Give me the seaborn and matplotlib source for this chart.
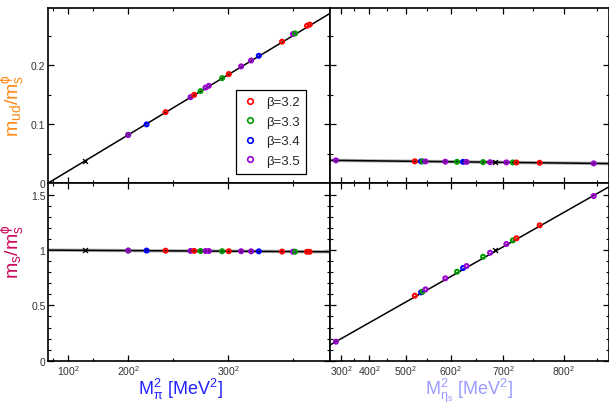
import numpy as np
import pandas as pd
import matplotlib
matplotlib.use("Agg")
import matplotlib.pyplot as plt
import seaborn as sns
from matplotlib.lines import Line2D
from matplotlib.ticker import FixedLocator, FixedFormatter

sns.set_style("ticks")
plt.rcParams["font.family"] = ["Liberation Sans", "DejaVu Sans"]
plt.rcParams["mathtext.fontset"] = "custom"
plt.rcParams["mathtext.rm"] = "Liberation Sans"
plt.rcParams["mathtext.it"] = "Liberation Sans:italic"
plt.rcParams["mathtext.bf"] = "Liberation Sans:bold"
plt.rcParams["mathtext.sf"] = "Liberation Sans"

# ---------------- data ----------------
betas = ["β=3.2", "β=3.3", "β=3.4", "β=3.5"]
beta_colors = ["#FF0000", "#009A00", "#0000FF", "#9A00D0"]

# ensembles vs M_pi^2 (MeV^2)
pi_beta = ["β=3.3", "β=3.5", "β=3.4", "β=3.2", "β=3.5", "β=3.2", "β=3.3",
           "β=3.5", "β=3.5", "β=3.3", "β=3.2", "β=3.5", "β=3.5", "β=3.4",
           "β=3.2", "β=3.5", "β=3.3", "β=3.2", "β=3.2"]
pi_M2 = [40000, 40000, 49200, 58700, 71200, 73000, 76200, 78700, 80350,
         87000, 90350, 96500, 101500, 105350, 117000, 122500, 123500,
         129500, 130850]
pi_ud = [0.0820, 0.0815, 0.0995, 0.1203, 0.1458, 0.1497, 0.1560, 0.1620,
         0.1650, 0.1780, 0.1850, 0.1980, 0.2080, 0.2160, 0.2400, 0.2530,
         0.2540, 0.2670, 0.2690]
pi_s = [0.996, 0.996, 0.996, 0.995, 0.993, 0.993, 0.992, 0.992, 0.992,
        0.990, 0.990, 0.990, 0.989, 0.989, 0.987, 0.986, 0.986, 0.985, 0.985]

# ensembles vs M_eta_s^2 (MeV^2)
eta_beta = ["β=3.5", "β=3.2", "β=3.4", "β=3.3", "β=3.5", "β=3.5", "β=3.3",
            "β=3.4", "β=3.5", "β=3.3", "β=3.5", "β=3.5", "β=3.3", "β=3.2",
            "β=3.2", "β=3.5"]
eta_M2 = [77150, 271860, 287200, 290900, 298300, 347200, 376100, 391000,
          399600, 440400, 457700, 498000, 513800, 522700, 580000, 713400]
eta_ud = [0.0384, 0.0368, 0.0367, 0.0367, 0.0366, 0.0362, 0.0360, 0.0359,
          0.0358, 0.0355, 0.0353, 0.0350, 0.0349, 0.0348, 0.0344, 0.0333]
eta_s = [0.172, 0.588, 0.618, 0.624, 0.645, 0.745, 0.805, 0.838, 0.856,
         0.940, 0.976, 1.055, 1.088, 1.107, 1.224, 1.489]

# physical points
phys_pi_M2 = [18225]
phys_eta_M2 = [469500]
phys_ud_pi = [0.0366]
phys_ud_eta = [0.0352]
phys_s = [1.0]

# fit lines (end points)
fit_pi_x = [0, 141000]
fit_pi_ud = [0.0, 0.288]
fit_pi_s = [1.0, 0.985]
fit_eta_x = [62500, 750000]
fit_eta_ud = [0.0385, 0.0330]
fit_eta_s = [0.142, 1.57]

# ticks
pi_major = [10000, 40000, 90000]
pi_major_lab = [r"$\mathrm{100^2}$", r"$\mathrm{200^2}$", r"$\mathrm{300^2}$"]
pi_minor = [2500, 22500, 62500, 122500]
eta_major = [90000, 160000, 250000, 360000, 490000, 640000]
eta_major_lab = [r"$\mathrm{300^2}$", r"$\mathrm{400^2}$", r"$\mathrm{500^2}$",
                 r"$\mathrm{600^2}$", r"$\mathrm{700^2}$", r"$\mathrm{800^2}$"]
eta_minor = [122500, 202500, 302500, 422500, 562500, 722500]
ud_major = [0.0, 0.1, 0.2]
ud_major_lab = ["0", "0.1", "0.2"]
ud_minor = [0.05, 0.15, 0.25]
s_major = [0.0, 0.5, 1.0, 1.5]
s_major_lab = ["0", "0.5", "1", "1.5"]
s_minor = [0.1, 0.2, 0.3, 0.4, 0.6, 0.7, 0.8, 0.9, 1.1, 1.2, 1.3, 1.4]

df_pi = pd.DataFrame({"M2": pi_M2, "ud": pi_ud, "s": pi_s, "beta": pi_beta})
df_eta = pd.DataFrame({"M2": eta_M2, "ud": eta_ud, "s": eta_s, "beta": eta_beta})
palette = dict(zip(betas, beta_colors))

# ---------------- figure ----------------
W, H = 609, 406
fig = plt.figure(figsize=(W / 100, H / 100), dpi=100)
L, Mx, R = 48.3 / W, 330 / W, 608.5 / W
T, My, B = 1 - 8.5 / H, 1 - 184 / H, 1 - 361.7 / H
ax_tl = fig.add_axes([L, My, Mx - L, T - My])
ax_tr = fig.add_axes([Mx, My, R - Mx, T - My])
ax_bl = fig.add_axes([L, B, Mx - L, My - B])
ax_br = fig.add_axes([Mx, B, R - Mx, My - B])


def hollow(ax):
    coll = ax.collections[-1]
    fc = coll.get_facecolors()
    coll.set_edgecolors(fc)
    coll.set_facecolors("none")
    coll.set_linewidths(1.5)


panels = [
    (ax_tl, df_pi, "ud", fit_pi_x, fit_pi_ud, phys_pi_M2, phys_ud_pi, False),
    (ax_bl, df_pi, "s", fit_pi_x, fit_pi_s, phys_pi_M2, phys_s, True),
    (ax_tr, df_eta, "ud", fit_eta_x, fit_eta_ud, phys_eta_M2, phys_ud_eta, True),
    (ax_br, df_eta, "s", fit_eta_x, fit_eta_s, phys_eta_M2, phys_s, False),
]
for ax, df, col, fx, fy, px, py, band in panels:
    if band:
        sns.lineplot(x=fx, y=fy, ax=ax, color="#b0b0b0", lw=2.4, legend=False)
    sns.lineplot(x=fx, y=fy, ax=ax, color="black", lw=1.1, legend=False)
    sns.scatterplot(data=df, x="M2", y=col, hue="beta", hue_order=betas,
                    palette=palette, s=8, ax=ax, legend=False, zorder=3)
    hollow(ax)
    sns.scatterplot(x=px, y=py, ax=ax, marker="x", color="black", s=12,
                    linewidth=1.0, zorder=4, legend=False)

for ax in (ax_tl, ax_bl):
    ax.set_xlim(0, 141000)
    ax.xaxis.set_major_locator(FixedLocator(pi_major))
    ax.xaxis.set_minor_locator(FixedLocator(pi_minor))
for ax in (ax_tr, ax_br):
    ax.set_xlim(62500, 750000)
    ax.xaxis.set_major_locator(FixedLocator(eta_major))
    ax.xaxis.set_minor_locator(FixedLocator(eta_minor))
for ax in (ax_tl, ax_tr):
    ax.set_ylim(0, 0.298)
    ax.yaxis.set_major_locator(FixedLocator(ud_major))
    ax.yaxis.set_minor_locator(FixedLocator(ud_minor))
for ax in (ax_bl, ax_br):
    ax.set_ylim(0, 1.607)
    ax.yaxis.set_major_locator(FixedLocator(s_major))
    ax.yaxis.set_minor_locator(FixedLocator(s_minor))

for ax in (ax_tl, ax_tr, ax_bl, ax_br):
    ax.tick_params(which="both", direction="in", top=True, right=True,
                   bottom=True, left=True, colors="black", labelsize=7.5,
                   pad=2)
    ax.tick_params(which="major", length=4.0, width=0.9)
    ax.tick_params(which="minor", length=2.3, width=0.8)
    for sp in ax.spines.values():
        sp.set_color("black")
        sp.set_linewidth(1.2)
    ax.set_xlabel("")
    ax.set_ylabel("")
    ax.set_facecolor("white")

# tick labels
ax_tl.xaxis.set_major_formatter(FixedFormatter([""] * len(pi_major)))
ax_tr.xaxis.set_major_formatter(FixedFormatter([""] * len(eta_major)))
ax_tr.yaxis.set_major_formatter(FixedFormatter([""] * len(ud_major)))
ax_br.yaxis.set_major_formatter(FixedFormatter([""] * len(s_major)))
ax_bl.xaxis.set_major_formatter(FixedFormatter(pi_major_lab))
ax_br.xaxis.set_major_formatter(FixedFormatter(eta_major_lab))
ax_tl.yaxis.set_major_formatter(FixedFormatter(ud_major_lab))
ax_bl.yaxis.set_major_formatter(FixedFormatter(s_major_lab))
for lab in ax_bl.get_xticklabels() + ax_br.get_xticklabels() + \
        ax_tl.get_yticklabels() + ax_bl.get_yticklabels():
    lab.set_color("#333333")

# axis labels
ax_tl.set_ylabel(r"$\mathrm{m_{ud}/m_s^{\phi}}$", color="#FF8A14", fontsize=14)
ax_tl.yaxis.set_label_coords(-0.072, 0.45)
ax_bl.set_ylabel(r"$\mathrm{m_s/m_s^{\phi}}$", color="#CC0A5C", fontsize=14)
ax_bl.yaxis.set_label_coords(-0.072, 0.62)
ax_bl.set_xlabel(r"$\mathrm{M_{\pi}^{2}}$ [MeV$^\mathrm{2}$]", color="#2222FF",
                 fontsize=13)
ax_bl.xaxis.set_label_coords(0.47, -0.085)
ax_br.set_xlabel(r"$\mathrm{M_{\eta_s}^{2}}$ [MeV$^\mathrm{2}$]", color="#9A9AFF",
                 fontsize=13)
ax_br.xaxis.set_label_coords(0.5, -0.085)

# legend
handles = [Line2D([], [], linestyle="", marker="o", markerfacecolor="none",
                  markeredgecolor=c, markersize=4, markeredgewidth=1.2)
           for c in beta_colors]
leg = ax_tl.legend(handles, betas, loc="lower left",
                   bbox_to_anchor=(0.666, 0.054), fontsize=9.5,
                   frameon=True, fancybox=False, shadow=False,
                   labelspacing=0.55, handletextpad=0.6, handlelength=1.2,
                   borderpad=0.5, borderaxespad=0.0)
leg.get_frame().set_edgecolor("black")
leg.get_frame().set_linewidth(0.9)
leg.get_frame().set_alpha(1.0)

fig.savefig("out.png", dpi=100)
